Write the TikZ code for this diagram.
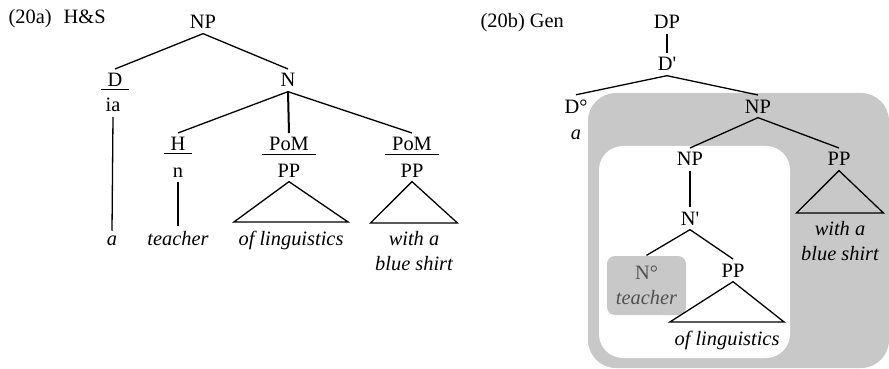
\documentclass[tikz,border=0pt]{standalone}
\usepackage{tikz}
\usepackage{fontspec}
\setmainfont{Liberation Serif}
\definecolor{boxgray}{RGB}{200,200,200}
\definecolor{textgray}{RGB}{80,80,80}
\newcommand{\treefont}{\fontsize{10.2}{12.5}\selectfont}
\newcommand{\catline}[1]{\underline{\kern3.5pt#1\kern3.5pt}}

\begin{document}
\begin{tikzpicture}[x=0.5pt,y=-0.5pt,line width=0.65pt,
    cat/.style={font=\treefont,inner sep=2pt,anchor=base},
    word/.style={font=\treefont\itshape,inner sep=2pt,anchor=base,align=center},
    title/.style={font=\treefont,inner sep=0pt,anchor=base west}]
  \useasboundingbox (0,0) rectangle (889,369);
  % (20a) H&S
  \node[title] (ta) at (8,24) {(20a)\hspace{6pt}H\&S};
  \node[cat] (NPa) at (203,29) {NP};
  \node[cat] (Da) at (115,87) {\catline{D}};
  \node[cat] (Na) at (288,87) {N};
  \node[cat] (ia) at (113,112) {ia};
  \node[cat] (Ha) at (178,151) {\catline{H}};
  \node[cat] (PoMa) at (289,151) {\catline{PoM}};
  \node[cat] (PoMb) at (412,151) {\catline{PoM}};
  \node[cat] (na) at (178,177) {n};
  \node[cat] (PPa) at (289,177) {PP};
  \node[cat] (PPb) at (412,177) {PP};
  \node[word] (aa) at (112,245) {a};
  \node[word] (teachera) at (178,245) {teacher};
  \node[word] (linga) at (291,245) {of linguistics};
  \node[word,anchor=north] (shirta) at (414,227) {with a\\blue shirt};
  \draw (NPa.south) -- (Da.north);
  \draw (NPa.south) -- (Na.north);
  \draw (Na.south) -- (Ha.north);
  \draw[line width=1pt] (Na.south) -- (PoMa.north);
  \draw (Na.south) -- (PoMb.north);
  \draw (ia.south) -- (aa.north);
  \draw (na.south) -- (teachera.north);
  \draw (PPa.south) -- ([yshift=2pt]linga.north west) -- ([yshift=2pt]linga.north east) -- cycle;
  \draw (PPb.south) -- ([yshift=2pt]shirta.north west) -- ([yshift=2pt]shirta.north east) -- cycle;
  % (20b) Gen
  \fill[boxgray,rounded corners=14pt] (588,93) rectangle (889,368);
  \fill[white,rounded corners=12pt] (599,146) rectangle (790,358);
  \node[title] (tb) at (480,28) {(20b) Gen};
  \node[cat] (DPb) at (667,29) {DP};
  \node[cat] (Dbarb) at (667,71) {D\textquotesingle};
  \node[cat] (D0b) at (576,113) {D\textdegree};
  \node[word] (ab) at (576,140) {a};
  \node[cat] (NPb) at (758,113) {NP};
  \node[cat] (NPc) at (690,166) {NP};
  \node[cat] (PPc) at (839,166) {PP};
  \node[cat] (Nbarb) at (690,225) {N\textquotesingle};
  \node[font=\treefont,fill=boxgray,text=textgray,rounded corners=4pt,align=center,
    minimum width=39.5pt,minimum height=29.5pt,inner sep=1pt] (N0b) at (646.5,285.5)
    {N\textdegree\\\textit{teacher}};
  \node[cat] (PPd) at (733,277) {PP};
  \node[word] (lingb) at (727,345) {of linguistics};
  \node[word,anchor=north] (shirtb) at (840,217) {with a\\blue shirt};
  \draw (DPb.south) -- (Dbarb.north);
  \draw (Dbarb.south) -- (D0b.north);
  \draw (Dbarb.south) -- (NPb.north);
  \draw (NPb.south) -- (NPc.north);
  \draw (NPb.south) -- (PPc.north);
  \draw (NPc.south) -- (Nbarb.north);
  \draw (Nbarb.south) -- (N0b.north);
  \draw (Nbarb.south) -- (PPd.north);
  \draw (PPd.south) -- ([yshift=2pt]lingb.north west) -- ([yshift=2pt]lingb.north east) -- cycle;
  \draw (PPc.south) -- ([yshift=2pt]shirtb.north west) -- ([yshift=2pt]shirtb.north east) -- cycle;
\end{tikzpicture}
\end{document}
